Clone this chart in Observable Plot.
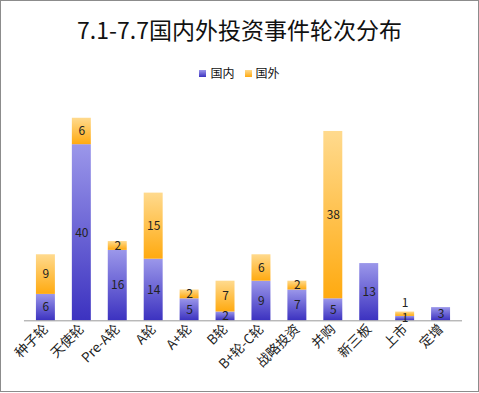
<!DOCTYPE html>
<html><head><meta charset="utf-8">
<script src="https://cdn.jsdelivr.net/npm/d3@7"></script>
<script src="https://cdn.jsdelivr.net/npm/@observablehq/plot@0.6"></script>
<style>
body{margin:0;background:#fff;font-family:"Noto Sans CJK SC","Noto Sans",sans-serif;}
#wrap{position:relative;width:477px;height:390px;border:1px solid #8c8c8c;overflow:hidden;background:#fff;}
#title{position:absolute;left:0;top:13px;width:477px;text-align:center;font-size:23px;color:#111;line-height:30px;}
#legend{position:absolute;left:0;top:64px;width:477px;text-align:center;font-size:12px;color:#111;line-height:16px;}
#legend span.sw{display:inline-block;width:7px;height:7px;margin-right:4px;vertical-align:1px;}
#legend span.item{margin:0 5px;}
#chart{position:absolute;left:-1px;top:-1px;}
</style></head>
<body>
<div id="wrap">
<div id="title">7.1-7.7国内外投资事件轮次分布</div>
<div id="legend"><span class="item"><span class="sw" style="background:linear-gradient(#9b97ea,#3c32c0)"></span>国内</span><span class="item"><span class="sw" style="background:linear-gradient(#ffda8e,#ffaa10)"></span>国外</span></div>
<div id="chart"></div>
</div>
<script>
const categories = ["种子轮","天使轮","Pre-A轮","A轮","A+轮","B轮","B+轮-C轮","战略投资","并购","新三板","上市","定增"];
const domestic = [6,40,16,14,5,2,9,7,5,13,1,3];
const foreign  = [9,6,2,15,2,7,6,2,38,0,1,0];
const seriesNames = ["国内","国外"];

const rows = [];
categories.forEach((c,i)=>{
  rows.push({cat:c, series:seriesNames[0], v:domestic[i], y1:0, y2:domestic[i]});
  rows.push({cat:c, series:seriesNames[1], v:foreign[i], y1:domestic[i], y2:domestic[i]+foreign[i]});
});
const bars = rows.filter(d=>d.v>0);
const labels = bars.map(d=>{
  const small = d.series==="国外" && d.v<2;
  return {...d, ly: small ? d.y2 : (d.y1+d.y2)/2, small};
});

const plot = Plot.plot({
  width: 479, height: 393,
  marginLeft: 24, marginRight: 16, marginTop: 118, marginBottom: 72,
  x: {domain: categories, paddingInner: 0.48, paddingOuter: 0.24, label: null, tickSize: 0, tickRotate: -45, tickPadding: 6},
  y: {domain: [0, 46], axis: null},
  style: {fontFamily: '"Noto Sans CJK SC","Noto Sans",sans-serif', fontSize: "12px", color: "#222", background: "transparent"},
  marks: [
    Plot.rectY(bars, {x: "cat", y1: "y1", y2: "y2", fill: d => d.series==="国内" ? "url(#gDom)" : "url(#gFor)"}),
    Plot.ruleY([0], {stroke: "#999", strokeWidth: 1}),
    Plot.text(labels.filter(d=>!d.small), {x: "cat", y: "ly", text: d=>String(d.v), fill: "#222", fontSize: 12}),
    Plot.text(labels.filter(d=>d.small), {x: "cat", y: "ly", dy: -9, text: d=>String(d.v), fill: "#222", fontSize: 12})
  ]
});
const svg = d3.select(plot);
const defs = svg.insert("defs", ":first-child");
const g1 = defs.append("linearGradient").attr("id","gDom").attr("x1",0).attr("y1",0).attr("x2",0).attr("y2",1);
g1.append("stop").attr("offset","0%").attr("stop-color","#9b97ea");
g1.append("stop").attr("offset","100%").attr("stop-color","#3c32c0");
const g2 = defs.append("linearGradient").attr("id","gFor").attr("x1",0).attr("y1",0).attr("x2",0).attr("y2",1);
g2.append("stop").attr("offset","0%").attr("stop-color","#ffda8e");
g2.append("stop").attr("offset","100%").attr("stop-color","#ffaa10");
svg.selectAll("g[aria-label='x-axis tick label']").attr("font-size","13.5px");
svg.selectAll("g[aria-label='x-axis tick label'] text").attr("fill","#222");
document.getElementById("chart").appendChild(plot);
</script>
</body></html>
